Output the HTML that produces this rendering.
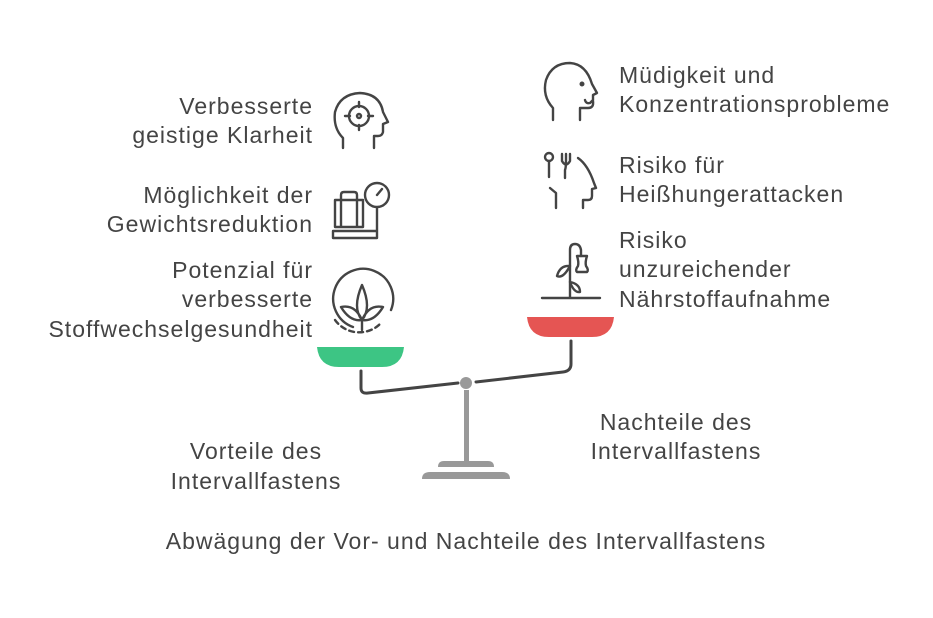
<!DOCTYPE html>
<html><head><meta charset="utf-8"><style>
html,body{margin:0;padding:0;background:#fff;}
svg{display:block}
text{font-family:"Liberation Sans",sans-serif;font-size:23px;letter-spacing:1px;fill:#444;}
</style></head><body>
<svg width="933" height="618" viewBox="0 0 933 618" xmlns="http://www.w3.org/2000/svg">
<rect width="933" height="618" fill="#fff"/>
<path d="M317 347 H404 Q402 367 382 367 H339 Q319 367 317 347Z" fill="#3dc584"/>
<path d="M527 317 H614 Q612 337 592 337 H549 Q529 337 527 317Z" fill="#e55553"/>
<g fill="none" stroke="#444" stroke-width="3" stroke-linecap="round">
<path d="M361 371 V388 Q361 394 368 393 L458 383"/>
<path d="M476 382 L563 372 Q571 371 571 364 V341"/>
</g>
<rect x="464" y="390" width="5" height="71" fill="#999"/>
<circle cx="466" cy="383" r="6" fill="#999"/>
<path d="M438 467 Q438 461 444 461 H488 Q494 461 494 467Z" fill="#999"/>
<path d="M422 479 Q422 472 430 472 H502 Q510 472 510 479Z" fill="#999"/>
<g fill="none" stroke="#444" stroke-width="2.4" stroke-linecap="round" stroke-linejoin="round">
<path d="M343 148 V138 Q333 128 335 112 Q340 94 360 93 Q380 94 383 112 L388 122 L383 124 V132 Q382 136 378 136 H374 V148"/>
<circle cx="359" cy="116" r="10"/><circle cx="359" cy="116" r="2"/>
<path d="M359 102 V107 M359 125 V130 M345 116 H350 M368 116 H373"/>
<path d="M335 200 H363 V227 H335Z M341 200 V195 Q341 192 344 192 H354 Q357 192 357 195 V200 M341 200 V227 M357 200 V227"/>
<path d="M333 231 H377 V238 H333Z M377 231 V208"/>
<circle cx="377" cy="195" r="12"/><path d="M377 195 L382 189"/>
<path d="M353 327 A30 30 0 1 1 391 310"/>
<path d="M335 320 A30 30 0 0 0 381 323" stroke-dasharray="5 4"/>
<path d="M362 330 V320 M362 320 Q352 308 362 285 Q372 308 362 320 M362 320 Q350 322 341 307 Q355 304 362 320 M362 320 Q374 322 383 307 Q369 304 362 320"/>
<path d="M553 120 V108 Q542 96 546 80 Q552 63 570 63 Q586 64 592 84 L597 93 L593 95 V100 L590 103 Q586 104 585 100 M593 101 Q594 108 588 108 H580 V120"/>
<circle cx="582" cy="84" r="1.3" fill="#444"/>
<circle cx="549" cy="157" r="4"/><path d="M549 161 V177"/>
<path d="M566 154 V160 Q566 168 565 170 V178 M562 154 V161 Q566 168 570 161 V154"/>
<path d="M578 158 Q588 165 594 183 L596 188 L592 189 V196 Q592 200 588 200 H583 V208 M550 188 L556 193 V208"/>
<path d="M542 298 H600 M570 298 V250 Q570 244 575 244 Q580 244 581 250 V256"/>
<path d="M577 256 H587 Q585 262 586 266 Q589 270 587 272 H577 Q575 270 578 266 Q579 262 577 256Z"/>
<path d="M570 266 Q560 265 557 276 Q563 279 570 266Z M570 282 Q580 284 580 292 Q574 293 570 282Z"/>
</g>
<g text-anchor="end">
<text x="313" y="114">Verbesserte</text><text x="313" y="143">geistige Klarheit</text>
<text x="313" y="203">Möglichkeit der</text><text x="313" y="232">Gewichtsreduktion</text>
<text x="313" y="278">Potenzial für</text><text x="313" y="307">verbesserte</text><text x="313" y="337">Stoffwechselgesundheit</text>
</g>
<g>
<text x="619" y="83">Müdigkeit und</text><text x="619" y="112">Konzentrationsprobleme</text>
<text x="619" y="173">Risiko für</text><text x="619" y="202">Heißhungerattacken</text>
<text x="619" y="248">Risiko</text><text x="619" y="277">unzureichender</text><text x="619" y="307">Nährstoffaufnahme</text>
</g>
<g text-anchor="middle">
<text x="676" y="430">Nachteile des</text><text x="676" y="459">Intervallfastens</text>
<text x="256" y="459">Vorteile des</text><text x="256" y="489">Intervallfastens</text>
<text x="466" y="549">Abwägung der Vor- und Nachteile des Intervallfastens</text>
</g>
</svg>
</body></html>
